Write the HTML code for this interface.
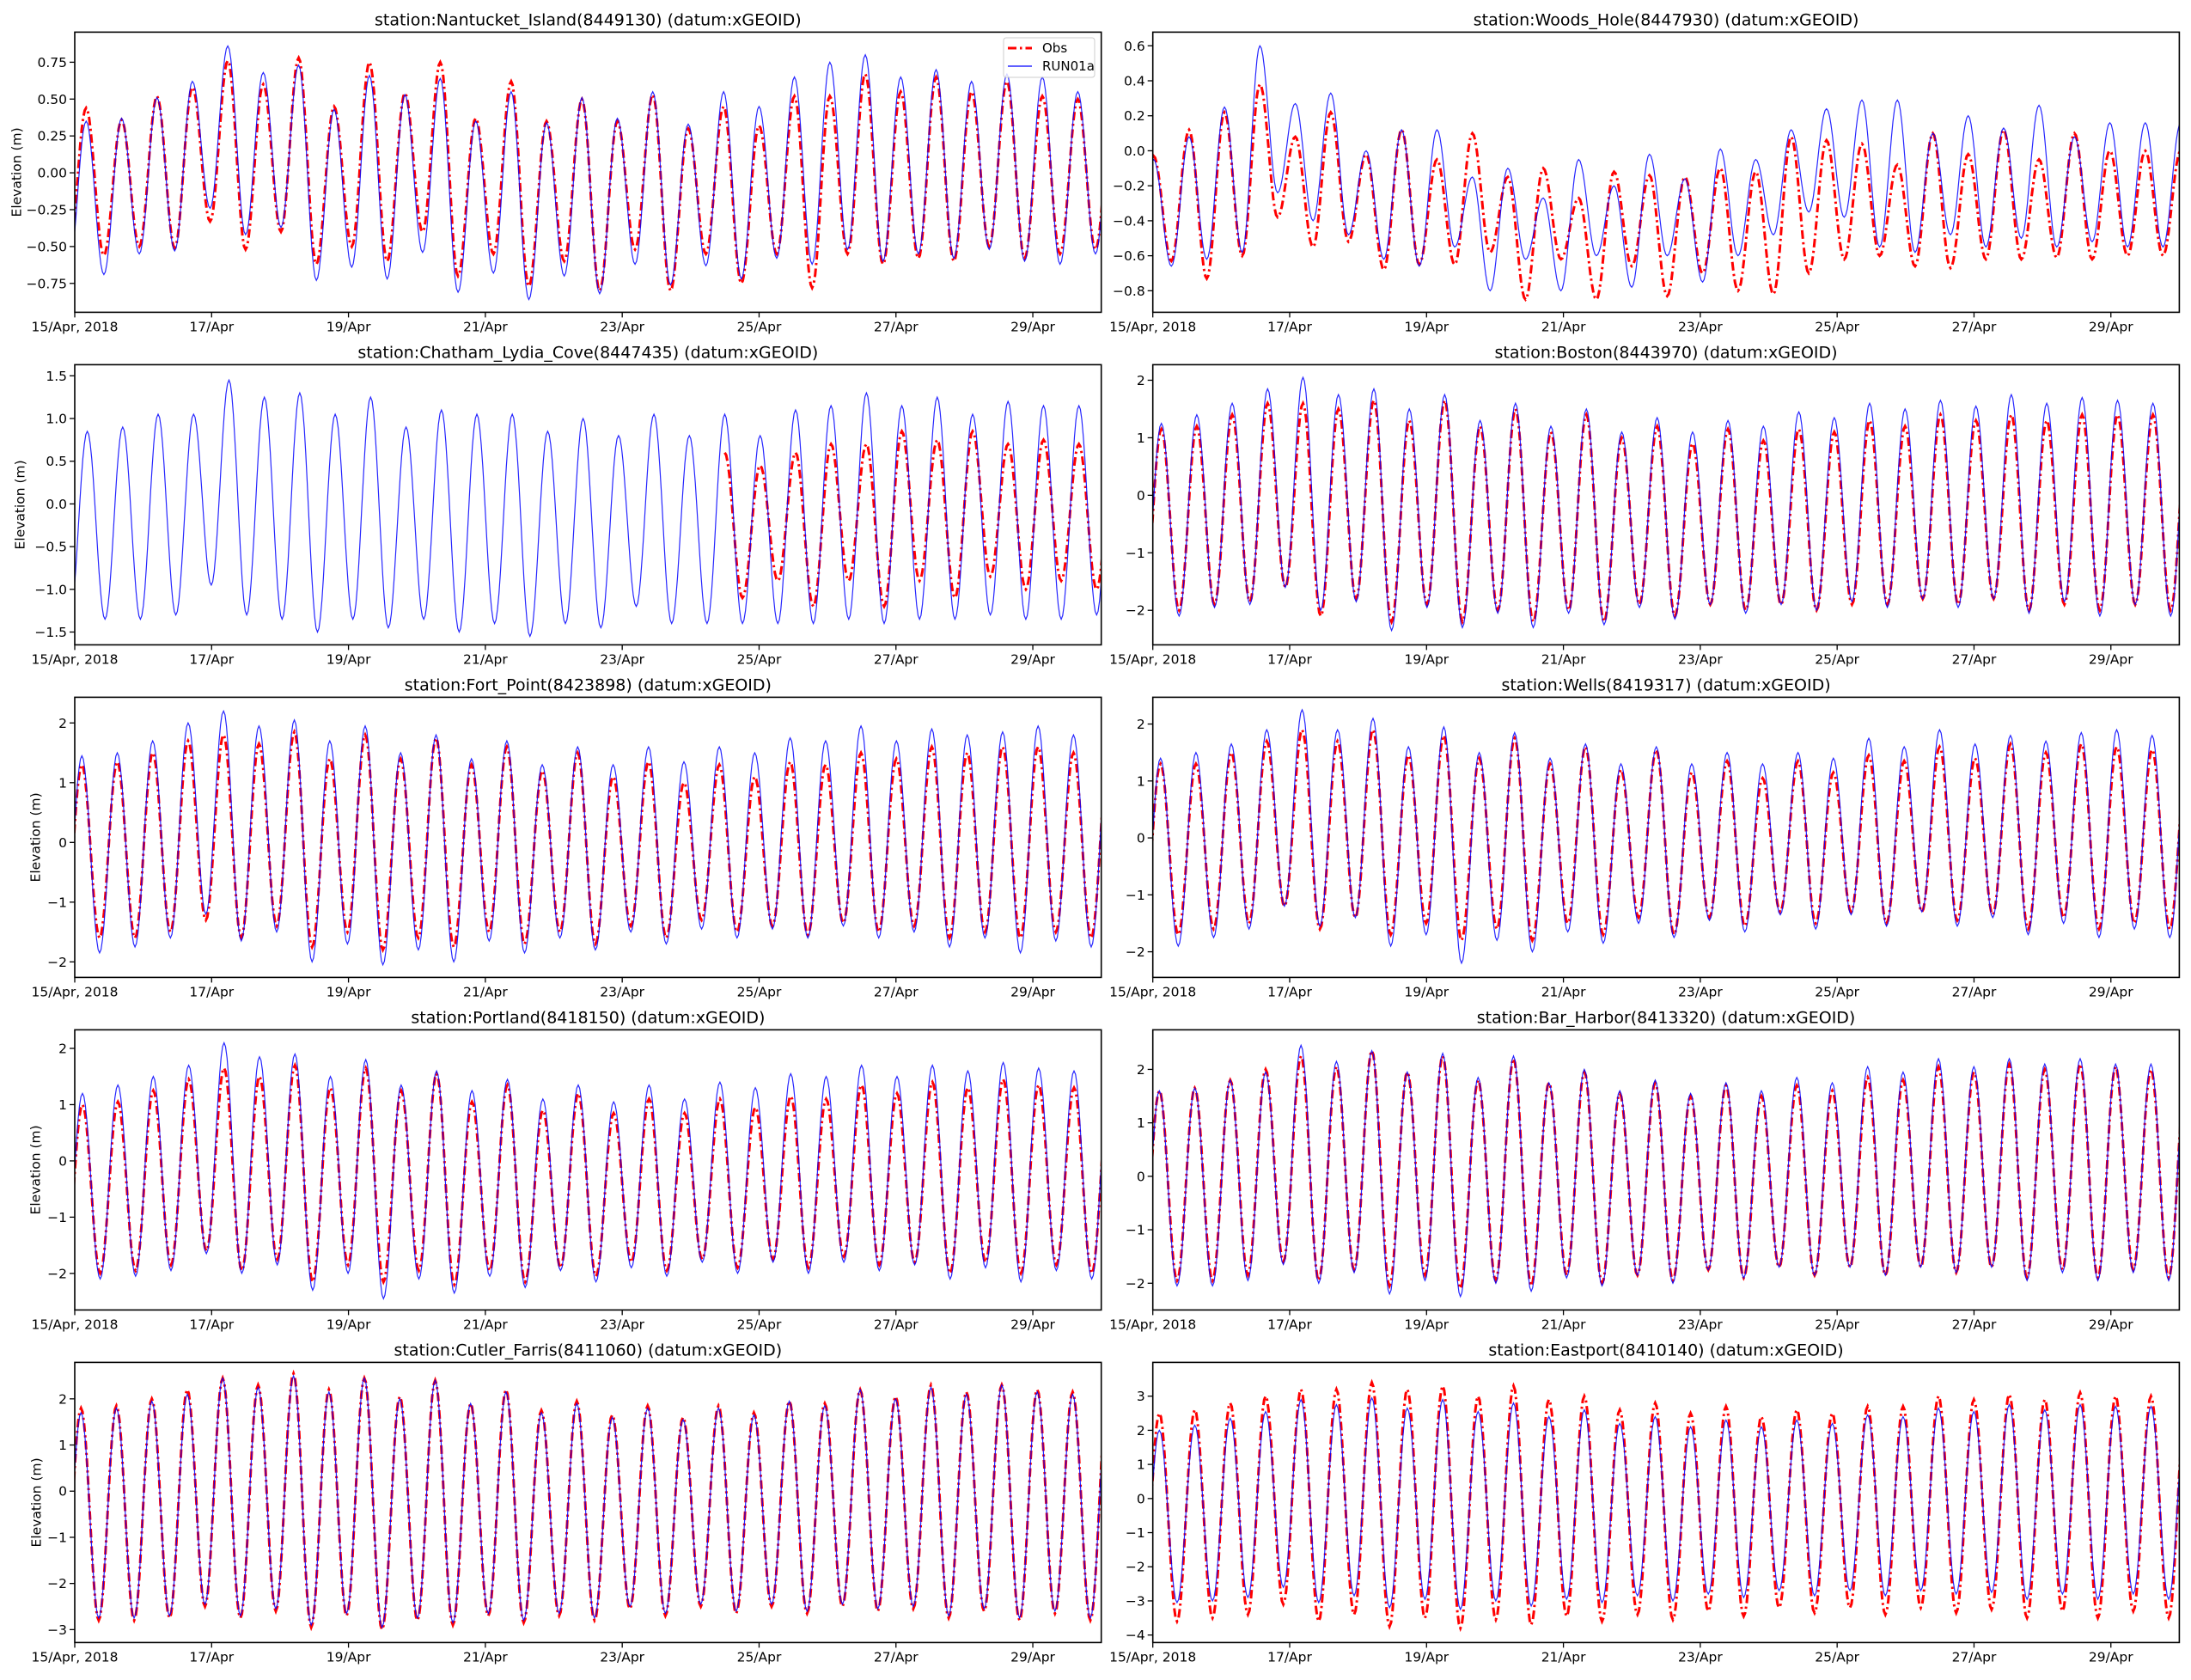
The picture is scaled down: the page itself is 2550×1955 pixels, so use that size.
<!DOCTYPE html>
<html><head><meta charset="utf-8"><title>Station elevation time series</title>
<style>
body{margin:0;background:#fff;}
svg text{font-family:"DejaVu Sans","Liberation Sans",sans-serif;fill:#000;}
</style></head>
<body>
<svg id="fig" width="2550" height="1950" viewBox="0 0 2550 1950" xmlns="http://www.w3.org/2000/svg"></svg>
<script>
// ---- data (peak / trough values, in metres) ----
const stationNames = ["Nantucket_Island(8449130)","Woods_Hole(8447930)","Chatham_Lydia_Cove(8447435)","Boston(8443970)","Fort_Point(8423898)","Wells(8419317)","Portland(8418150)","Bar_Harbor(8413320)","Cutler_Farris(8411060)","Eastport(8410140)"];
const yLimits = [[-0.946,0.954],[-0.923,0.678],[-1.65,1.63],[-2.60,2.27],[-2.26,2.43],[-2.45,2.47],[-2.65,2.33],[-2.50,2.74],[-3.28,2.79],[-4.22,3.99]];
const yTickLabels = [[-0.75,-0.5,-0.25,0,0.25,0.5,0.75],[-0.8,-0.6,-0.4,-0.2,0,0.2,0.4,0.6],[-1.5,-1,-0.5,0,0.5,1,1.5],[-2,-1,0,1,2],[-2,-1,0,1,2],[-2,-1,0,1,2],[-2,-1,0,1,2],[-2,-1,0,1,2],[-3,-2,-1,0,1,2],[-4,-3,-2,-1,0,1,2,3]];
const tickDecimals = [2,1,1,0,0,0,0,0,0,0];
const firstHighHour = [4,0.3,4.4,3,2.5,2.7,2.7,2.3,2.2,2.3];
const xTickDays = [0,2,4,6,8,10,12,14];
const xTickLabels = ["15/Apr, 2018","17/Apr","19/Apr","21/Apr","23/Apr","25/Apr","27/Apr","29/Apr"];

const obsHigh = [
[0.44,0.36,0.52,0.58,0.76,0.60,0.78,0.45,0.75,0.54,0.75,0.37,0.62,0.35,0.50,0.35,0.53,0.30,0.45,0.32,0.52,0.52,0.67,0.55,0.65,0.55,0.62,0.52,0.50,0.50],
[-0.03,0.12,0.22,0.38,0.08,0.22,-0.02,0.12,-0.05,0.10,-0.15,-0.10,-0.27,-0.12,-0.14,-0.15,-0.10,-0.12,0.08,0.06,0.04,-0.08,0.10,-0.02,0.12,-0.05,0.10,0.0,0.0,0.0],
[null,null,null,null,null,null,null,null,null,null,null,null,null,null,null,null,null,null,0.6,0.45,0.6,0.7,0.7,0.85,0.75,0.85,0.7,0.75,0.7,0.7],
[1.15,1.2,1.4,1.6,1.6,1.5,1.65,1.3,1.65,1.2,1.5,1.1,1.4,1.0,1.2,0.9,1.15,0.95,1.15,1.1,1.3,1.2,1.4,1.3,1.4,1.3,1.4,1.4,1.4,1.4],
[1.3,1.35,1.5,1.7,1.8,1.65,1.85,1.4,1.8,1.4,1.75,1.3,1.6,1.2,1.5,1.1,1.35,1.0,1.3,1.1,1.35,1.3,1.5,1.4,1.6,1.5,1.6,1.6,1.5,1.5],
[1.3,1.3,1.5,1.7,1.9,1.7,1.9,1.45,1.8,1.4,1.75,1.3,1.6,1.2,1.55,1.15,1.35,1.05,1.35,1.15,1.45,1.35,1.6,1.4,1.65,1.5,1.65,1.6,1.55,1.55],
[1.0,1.05,1.25,1.45,1.65,1.5,1.7,1.3,1.65,1.25,1.55,1.05,1.35,0.9,1.2,0.85,1.1,0.85,1.1,0.95,1.15,1.1,1.35,1.2,1.4,1.3,1.45,1.35,1.3,1.3],
[1.6,1.65,1.8,2.0,2.25,2.05,2.35,1.95,2.25,1.8,2.2,1.75,1.95,1.55,1.75,1.5,1.7,1.5,1.7,1.6,1.85,1.8,2.05,1.95,2.1,2.0,2.1,2.05,2.0,2.0],
[1.8,1.85,2.0,2.2,2.45,2.3,2.55,2.2,2.45,2.05,2.4,1.9,2.2,1.75,1.95,1.65,1.85,1.6,1.85,1.7,1.95,1.9,2.2,2.05,2.3,2.15,2.3,2.2,2.15,2.15],
[2.5,2.6,2.8,3.0,3.2,3.2,3.4,3.2,3.3,3.0,3.3,2.9,3.0,2.6,2.8,2.5,2.7,2.4,2.6,2.5,2.7,2.7,3.0,2.9,3.05,2.9,3.1,3.0,3.0,3.0]];
const obsLow = [
[-0.56,-0.50,-0.51,-0.33,-0.52,-0.40,-0.62,-0.50,-0.60,-0.40,-0.70,-0.55,-0.77,-0.60,-0.80,-0.52,-0.80,-0.55,-0.75,-0.55,-0.78,-0.55,-0.62,-0.58,-0.60,-0.50,-0.58,-0.55,-0.52,-0.52],
[-0.63,-0.73,-0.60,-0.38,-0.55,-0.52,-0.68,-0.65,-0.65,-0.58,-0.85,-0.62,-0.85,-0.66,-0.83,-0.70,-0.80,-0.82,-0.70,-0.62,-0.60,-0.66,-0.67,-0.62,-0.62,-0.61,-0.62,-0.60,-0.60,-0.60],
[null,null,null,null,null,null,null,null,null,null,null,null,null,null,null,null,null,null,-1.1,-0.9,-1.2,-0.9,-1.2,-0.9,-1.1,-0.85,-1.0,-0.9,-1.0,-0.9],
[-2.0,-1.9,-1.85,-1.6,-2.1,-1.8,-2.2,-1.9,-2.2,-2.0,-2.2,-2.0,-2.2,-1.9,-2.1,-1.9,-2.0,-1.9,-2.0,-1.9,-1.9,-1.8,-1.9,-1.8,-2.0,-1.9,-2.0,-1.9,-2.0,-2.0],
[-1.6,-1.6,-1.5,-1.3,-1.6,-1.4,-1.75,-1.5,-1.8,-1.6,-1.75,-1.5,-1.7,-1.5,-1.7,-1.4,-1.6,-1.3,-1.5,-1.4,-1.55,-1.35,-1.5,-1.4,-1.6,-1.5,-1.6,-1.5,-1.6,-1.6],
[-1.7,-1.6,-1.5,-1.2,-1.6,-1.4,-1.7,-1.5,-1.8,-1.6,-1.8,-1.5,-1.7,-1.4,-1.7,-1.4,-1.55,-1.3,-1.5,-1.3,-1.5,-1.3,-1.45,-1.35,-1.6,-1.4,-1.6,-1.5,-1.6,-1.6],
[-2.0,-1.95,-1.85,-1.6,-1.95,-1.75,-2.15,-1.85,-2.15,-1.95,-2.2,-1.95,-2.15,-1.9,-2.05,-1.8,-1.95,-1.75,-1.9,-1.75,-1.9,-1.7,-1.85,-1.8,-2.0,-1.8,-2.0,-1.85,-2.0,-2.0],
[-1.95,-1.95,-1.85,-1.6,-1.95,-1.75,-2.05,-1.85,-2.1,-1.95,-2.05,-1.85,-2.0,-1.85,-1.95,-1.75,-1.9,-1.7,-1.85,-1.7,-1.85,-1.7,-1.8,-1.7,-1.9,-1.75,-1.9,-1.75,-1.9,-1.9],
[-2.8,-2.8,-2.75,-2.5,-2.75,-2.6,-2.95,-2.7,-3.0,-2.8,-2.9,-2.7,-2.85,-2.7,-2.8,-2.55,-2.7,-2.5,-2.65,-2.5,-2.65,-2.5,-2.6,-2.55,-2.75,-2.6,-2.8,-2.65,-2.8,-2.8],
[-3.6,-3.5,-3.4,-3.1,-3.6,-3.4,-3.75,-3.5,-3.8,-3.55,-3.7,-3.45,-3.6,-3.4,-3.55,-3.3,-3.45,-3.2,-3.35,-3.2,-3.4,-3.2,-3.35,-3.25,-3.5,-3.3,-3.5,-3.3,-3.5,-3.5]];
const modHigh = [
[0.35,0.37,0.51,0.62,0.86,0.68,0.73,0.43,0.66,0.53,0.64,0.35,0.55,0.34,0.51,0.37,0.55,0.33,0.55,0.45,0.65,0.75,0.80,0.65,0.70,0.62,0.67,0.65,0.55,0.55],
[-0.05,0.08,0.25,0.60,0.27,0.33,0.0,0.12,0.12,-0.15,-0.10,-0.27,-0.05,-0.20,-0.02,-0.16,0.01,-0.05,0.12,0.24,0.29,0.29,0.10,0.20,0.13,0.26,0.08,0.16,0.16,0.16],
[0.85,0.9,1.05,1.05,1.45,1.25,1.3,1.05,1.25,0.9,1.1,1.05,1.05,0.85,1.0,0.8,1.05,0.8,1.05,0.8,1.1,1.15,1.3,1.15,1.25,1.05,1.2,1.15,1.15,1.15],
[1.25,1.4,1.6,1.85,2.05,1.75,1.85,1.5,1.75,1.3,1.6,1.2,1.5,1.1,1.35,1.1,1.3,1.2,1.45,1.35,1.6,1.5,1.65,1.55,1.75,1.6,1.7,1.65,1.6,1.6],
[1.45,1.5,1.7,2.0,2.2,1.95,2.05,1.7,1.95,1.5,1.8,1.4,1.7,1.3,1.6,1.3,1.6,1.35,1.6,1.5,1.75,1.7,1.95,1.7,1.9,1.8,1.85,1.95,1.8,1.8],
[1.4,1.5,1.65,1.9,2.25,1.9,2.1,1.6,1.95,1.5,1.85,1.4,1.65,1.3,1.6,1.3,1.5,1.3,1.5,1.4,1.75,1.6,1.9,1.65,1.8,1.7,1.85,1.9,1.8,1.8],
[1.2,1.35,1.5,1.7,2.1,1.85,1.9,1.5,1.8,1.35,1.6,1.25,1.45,1.1,1.35,1.05,1.35,1.1,1.4,1.3,1.55,1.5,1.7,1.5,1.7,1.6,1.75,1.65,1.6,1.6],
[1.6,1.65,1.8,1.95,2.45,2.15,2.35,1.95,2.3,1.85,2.25,1.75,2.0,1.6,1.8,1.55,1.75,1.6,1.85,1.75,2.05,1.95,2.2,2.05,2.2,2.1,2.2,2.1,2.1,2.1],
[1.7,1.8,1.95,2.1,2.45,2.25,2.5,2.15,2.45,2.0,2.4,1.9,2.15,1.7,1.9,1.6,1.8,1.55,1.8,1.65,1.95,1.85,2.2,2.0,2.25,2.1,2.3,2.15,2.1,2.1],
[2.0,2.15,2.35,2.55,2.9,2.75,2.95,2.65,2.9,2.55,2.8,2.4,2.6,2.2,2.4,2.1,2.3,2.1,2.3,2.2,2.45,2.4,2.65,2.55,2.75,2.6,2.75,2.7,2.7,2.7]];
const modLow = [
[-0.69,-0.55,-0.53,-0.24,-0.42,-0.37,-0.73,-0.64,-0.72,-0.54,-0.81,-0.68,-0.86,-0.70,-0.82,-0.62,-0.76,-0.63,-0.72,-0.58,-0.62,-0.52,-0.60,-0.55,-0.58,-0.52,-0.60,-0.62,-0.55,-0.55],
[-0.66,-0.62,-0.58,-0.24,-0.40,-0.48,-0.62,-0.66,-0.55,-0.80,-0.62,-0.80,-0.60,-0.78,-0.60,-0.75,-0.60,-0.48,-0.35,-0.38,-0.55,-0.58,-0.48,-0.55,-0.50,-0.55,-0.52,-0.55,-0.55,-0.55],
[-1.35,-1.35,-1.3,-0.95,-1.3,-1.35,-1.5,-1.35,-1.45,-1.35,-1.5,-1.4,-1.55,-1.4,-1.45,-1.2,-1.4,-1.4,-1.4,-1.4,-1.4,-1.35,-1.4,-1.35,-1.35,-1.3,-1.35,-1.35,-1.3,-1.3],
[-2.1,-1.95,-1.9,-1.6,-2.0,-1.85,-2.35,-1.95,-2.3,-2.05,-2.3,-2.05,-2.25,-1.95,-2.15,-1.9,-2.05,-1.9,-2.0,-1.85,-1.95,-1.8,-1.95,-1.8,-2.05,-1.85,-2.1,-1.9,-2.1,-2.1],
[-1.85,-1.75,-1.6,-1.2,-1.65,-1.5,-2.0,-1.7,-2.05,-1.8,-2.0,-1.65,-1.85,-1.6,-1.8,-1.5,-1.7,-1.45,-1.6,-1.45,-1.6,-1.4,-1.6,-1.5,-1.75,-1.6,-1.85,-1.65,-1.75,-1.75],
[-1.9,-1.75,-1.6,-1.2,-1.55,-1.4,-1.9,-1.7,-2.2,-1.8,-2.0,-1.65,-1.85,-1.5,-1.75,-1.45,-1.65,-1.35,-1.6,-1.35,-1.55,-1.3,-1.55,-1.4,-1.7,-1.5,-1.75,-1.6,-1.75,-1.75],
[-2.1,-2.05,-1.95,-1.65,-2.0,-1.85,-2.3,-2.0,-2.45,-2.1,-2.35,-2.05,-2.25,-1.95,-2.15,-1.9,-2.05,-1.8,-2.0,-1.8,-2.0,-1.8,-1.95,-1.85,-2.1,-1.9,-2.15,-1.95,-2.1,-2.1],
[-2.05,-2.05,-1.95,-1.65,-2.0,-1.8,-2.2,-1.95,-2.25,-2.0,-2.15,-1.9,-2.05,-1.85,-2.0,-1.75,-1.9,-1.7,-1.85,-1.7,-1.85,-1.7,-1.8,-1.7,-1.95,-1.8,-1.95,-1.8,-1.95,-1.95],
[-2.75,-2.75,-2.7,-2.45,-2.7,-2.55,-2.9,-2.65,-2.95,-2.75,-2.85,-2.65,-2.8,-2.65,-2.75,-2.5,-2.65,-2.45,-2.6,-2.45,-2.6,-2.45,-2.55,-2.5,-2.7,-2.55,-2.75,-2.6,-2.75,-2.75],
[-3.05,-3.0,-2.9,-2.6,-3.05,-2.85,-3.2,-2.95,-3.25,-3.0,-3.15,-2.95,-3.05,-2.85,-3.0,-2.8,-2.9,-2.7,-2.85,-2.7,-2.85,-2.7,-2.8,-2.75,-2.95,-2.8,-2.95,-2.8,-2.95,-2.95]];

// ---- layout ----
const NS = "http://www.w3.org/2000/svg";
const svg = document.getElementById('fig');
const colX = [87, 1341.7], axW = 1194.7, rowY0 = 37.4, rowPitch = 387, axH = 326;
const ylabelX = [20, 42, 24, 42, 42, 42, 42, 42, 43, 42];
const TOTAL_DAYS = 15, HALF = 6.21;

function mk(tag, attrs, parent){const e=document.createElementNS(NS,tag);for(const k in attrs)e.setAttribute(k,attrs[k]);(parent||svg).appendChild(e);return e;}
function fmt(v,d){let s=v.toFixed(d);if(v<0)s='\u2212'+s.slice(1);if(Math.abs(v)<1e-9)s=(0).toFixed(d);return s;}

function buildExtrema(hi, lo, phase){
  // alternating high/low; prepend a low before first high
  const pts=[];
  pts.push([phase-HALF, lo[0]]);
  for(let k=0;k<hi.length;k++){
    pts.push([phase+2*k*HALF, hi[k]]);
    pts.push([phase+(2*k+1)*HALF, lo[k]]);
  }
  return pts;
}
function curvePath(pts, xs, ys){
  let d='', pen=false;
  for(let i=0;i<pts.length-1;i++){
    const [t0,v0]=pts[i],[t1,v1]=pts[i+1];
    if(v0===null||v1===null){pen=false;continue;}
    if(t0>TOTAL_DAYS*24) break;
    const n=12;
    for(let j=0;j<=n;j++){
      const f=j/n, t=t0+(t1-t0)*f, v=v0+(v1-v0)*(1-Math.cos(Math.PI*f))/2;
      d+=(pen?'L':'M')+xs(t/24).toFixed(1)+' '+ys(v).toFixed(1)+' ';
      pen=true;
    }
  }
  return d;
}

for(let p=0;p<10;p++){
  const col=p%2,row=Math.floor(p/2);
  const x0=colX[col], y0=rowY0+row*rowPitch;
  const [ymin,ymax]=yLimits[p];
  const xs=d=>x0+d/TOTAL_DAYS*axW;
  const ys=v=>y0+axH-(v-ymin)/(ymax-ymin)*axH;
  const g=mk('g',{});
  
  
  const clipId='clip'+p;
  const cp=mk('clipPath',{id:clipId},g);
  mk('rect',{x:x0,y:y0,width:axW,height:axH},cp);
  const title=mk('text',{x:x0+axW/2,y:y0-8,'text-anchor':'middle','font-size':19},g);
  title.textContent='station:'+stationNames[p]+' (datum:xGEOID)';
  
  
  // series
  const obs=mk('path',{d:curvePath(buildExtrema(obsHigh[p],obsLow[p],firstHighHour[p]),xs,ys),fill:'none',stroke:'#ff0000','stroke-width':3,'stroke-dasharray':'10 4 2.5 4','clip-path':'url(#'+clipId+')'},g);
  
  
  const mod=mk('path',{d:curvePath(buildExtrema(modHigh[p],modLow[p],firstHighHour[p]),xs,ys),fill:'none',stroke:'#0000ff','stroke-width':1.2,'stroke-opacity':0.85,'clip-path':'url(#'+clipId+')'},g);
  
  
  // frame
  const fr=mk('rect',{x:x0,y:y0,width:axW,height:axH,fill:'none',stroke:'#000','stroke-width':1.6},g);
  
  
  // x ticks
  xTickDays.forEach((d,i)=>{
    const x=xs(d);
    mk('line',{x1:x,x2:x,y1:y0+axH,y2:y0+axH+6,stroke:'#000','stroke-width':1.3},g);
    const t=mk('text',{x:x,y:y0+axH+22,'text-anchor':'middle','font-size':15.5},g);
    t.textContent=xTickLabels[i];
    
    
  });
  // y ticks
  yTickLabels[p].forEach(v=>{
    const y=ys(v);
    mk('line',{x1:x0-6,x2:x0,y1:y,y2:y,stroke:'#000','stroke-width':1.3},g);
    const t=mk('text',{x:x0-9,y:y+5.5,'text-anchor':'end','font-size':15.5},g);
    t.textContent=fmt(v,tickDecimals[p]);
    
    
  });
  if(col===0){
    const cx=ylabelX[p], cy=y0+axH/2;
    const yl=mk('text',{x:cx,y:cy,'text-anchor':'middle','font-size':15.5,transform:'rotate(-90 '+cx+' '+cy+')','dominant-baseline':'middle'},g);
    yl.textContent='Elevation (m)';
    
    
  }
}
// legend
const lg=mk('g',{});


mk('rect',{x:1168,y:44,width:106,height:46,rx:3,fill:'#fff','fill-opacity':0.8,stroke:'#ccc','stroke-width':1},lg);
const l1=mk('line',{x1:1173,x2:1201,y1:56,y2:56,stroke:'#ff0000','stroke-width':3,'stroke-dasharray':'10 4 2.5 4'},lg);


const t1=mk('text',{x:1213,y:61,'font-size':15},lg);t1.textContent='Obs';


const l2=mk('line',{x1:1173,x2:1201,y1:77,y2:77,stroke:'#0000ff','stroke-width':1.2},lg);


const t2=mk('text',{x:1213,y:82,'font-size':15},lg);t2.textContent='RUN01a';


</script>
</body></html>
